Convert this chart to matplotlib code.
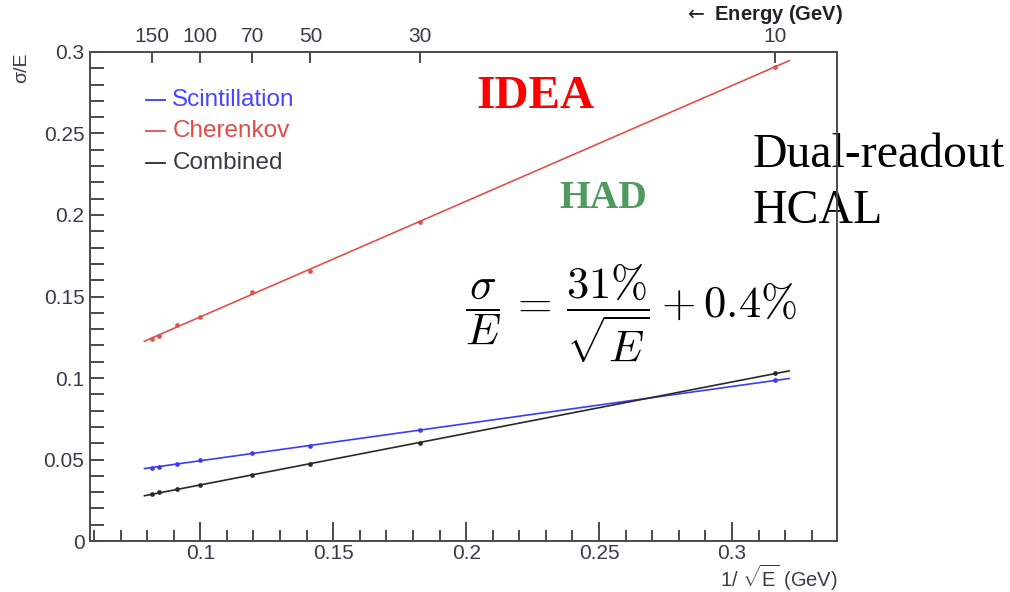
import numpy as np
import matplotlib
matplotlib.use("Agg")
import matplotlib.pyplot as plt
from matplotlib.ticker import MultipleLocator, NullFormatter

plt.rcParams['font.family'] = ['Liberation Sans', 'DejaVu Sans']
plt.rcParams['mathtext.fontset'] = 'custom'
plt.rcParams['mathtext.rm'] = 'Liberation Sans'
plt.rcParams['mathtext.it'] = 'Liberation Sans:italic'
plt.rcParams['mathtext.bf'] = 'Liberation Sans:bold'

# Beam energies (GeV) and measured relative resolutions
energy = [150, 140, 120, 100, 70, 50, 30, 10]
scint_res = [0.0450, 0.0456, 0.0474, 0.0495, 0.0540, 0.0581, 0.0680, 0.0986]
cher_res = [0.1240, 0.1258, 0.1323, 0.1376, 0.1528, 0.1656, 0.1960, 0.2910]
comb_res = [0.0288, 0.0299, 0.0317, 0.0344, 0.0405, 0.0472, 0.0600, 0.1030]

# Energy ticks on the upper axis
top_energies = [150, 100, 70, 50, 30, 10]

series = [
    ("Scintillation", scint_res, "#3c3cf5", "#4646ff"),
    ("Cherenkov", cher_res, "#e2504c", "#e04a48"),
    ("Combined", comb_res, "#2a2a2a", "#3a3a44"),
]

tick_color = "#3a3a48"
spine_color = "#4a4a4a"

fig = plt.figure(figsize=(10.10, 5.92), dpi=100)
ax = fig.add_axes([0.0891, 0.0861, 0.7396, 0.8261])

x = 1.0 / np.sqrt(np.array(energy, dtype=float))
x_fit = np.linspace(0.079, 0.3215, 50)

for name, vals, lc, tc in series:
    vals = np.array(vals)
    b, a = np.polyfit(x, vals, 1)
    ax.plot(x_fit, a + b * x_fit, color=lc, lw=1.2, zorder=3)
    ax.plot(x, vals, 'o', color=lc, ms=3.4, mew=0, zorder=4)

ax.set_xlim(0.0585, 0.3395)
ax.set_ylim(0, 0.3)

ax.xaxis.set_minor_locator(MultipleLocator(0.01))
ax.yaxis.set_minor_locator(MultipleLocator(0.01))
ax.set_xticks([0.1, 0.15, 0.2, 0.25, 0.3])
ax.set_xticklabels(["0.1", "0.15", "0.2", "0.25", "0.3"])
ax.set_yticks([0, 0.05, 0.1, 0.15, 0.2, 0.25, 0.3])
ax.set_yticklabels(["0", "0.05", "0.1", "0.15", "0.2", "0.25", "0.3"])

ax.tick_params(axis='x', which='major', direction='in', length=14, width=1.4,
               color=spine_color, labelsize=15, labelcolor=tick_color, pad=2,
               top=False)
ax.tick_params(axis='x', which='minor', direction='in', length=8, width=1.4,
               color=spine_color, top=False)
ax.tick_params(axis='y', which='both', direction='in', length=10, width=1.4,
               color=spine_color, labelsize=15, labelcolor=tick_color, pad=4,
               right=False)
for s in ax.spines.values():
    s.set_color(spine_color)
    s.set_linewidth(1.4)
    s.set_zorder(5)

# Upper axis in beam energy
ax_top = ax.twiny()
ax_top.set_xlim(ax.get_xlim())
ax_top.set_xticks(1.0 / np.sqrt(np.array(top_energies, dtype=float)))
ax_top.set_xticklabels([str(e) for e in top_energies])
ax_top.xaxis.set_minor_formatter(NullFormatter())
ax_top.tick_params(axis='x', direction='in', length=8, width=1.4,
                   color=spine_color, labelsize=15, labelcolor=tick_color, pad=4)
for s in ax_top.spines.values():
    s.set_visible(False)

# Axis titles
fig.text(0.021, 0.912, "σ/E", rotation=90, ha='center', va='top',
         fontsize=14, color=tick_color)
fig.text(0.829, 0.009, r"1/ $\sqrt{\mathrm{E}}$ (GeV)", ha='right',
         va='baseline', fontsize=14.5, color=tick_color)
fig.text(0.834, 0.975, r"$\leftarrow$ Energy (GeV)", ha='right', va='center',
         fontsize=14.5, fontweight='bold', color="#222226",
         math_fontfamily='dejavusans')

# Legend entries
legend_y = [0.2706, 0.2515, 0.2319]
for (name, vals, lc, tc), yy in zip(series, legend_y):
    ax.plot([0.0795, 0.0867], [yy, yy], color=lc, lw=1.3, zorder=3)
    ax.text(0.0895, yy, name, color=tc, fontsize=17.5, va='center', ha='left')

# Annotations
serif = ['Liberation Serif', 'DejaVu Serif']
fig.text(0.472, 0.817, "IDEA", family=serif, fontweight='bold', color='#ff0000',
         fontsize=34, ha='left', va='baseline')
fig.text(0.554, 0.649, "HAD", family=serif, fontweight='bold', color='#4f9a5c',
         fontsize=28.5, ha='left', va='baseline')
ax.text(1.0 + (753 - 837) / 747.0, (592 - 167 - 51) / 489.0, "Dual-readout",
        transform=ax.transAxes, family=serif, fontsize=34.5, color='black',
        ha='left', va='baseline', clip_on=False, zorder=1)
ax.text(1.0 + (753 - 837) / 747.0, (592 - 223 - 51) / 489.0, "HCAL",
        transform=ax.transAxes, family=serif, fontsize=34.5, color='black',
        ha='left', va='baseline', clip_on=False, zorder=1)
fig.text(0.6243, 0.4704, r"$\dfrac{\sigma}{E}\,=\,\dfrac{31\%}{\sqrt{E}} + 0.4\%$",
         math_fontfamily='cm', fontsize=32, color='black', ha='center',
         va='center')

fig.savefig("out.png", dpi=100)
